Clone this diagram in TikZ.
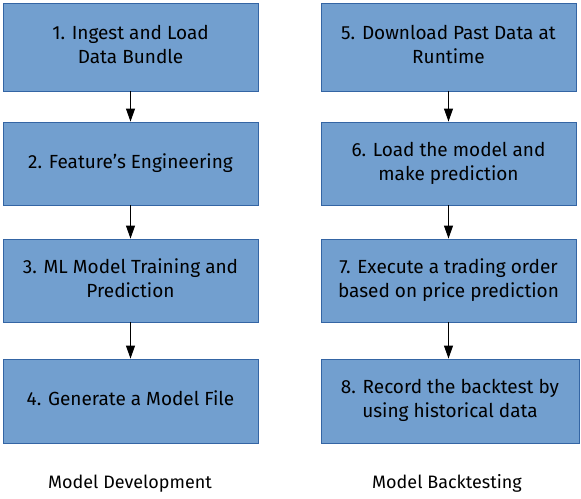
\documentclass[tikz,border=0pt]{standalone}
\usepackage{fontspec}
\setmainfont{Fira Sans}
\usetikzlibrary{arrows.meta}
\definecolor{boxfill}{HTML}{729FCF}
\definecolor{boxline}{HTML}{3465A4}
\tikzset{
  x=1pt, y=-1pt,
  stepbox/.style={draw=boxline, fill=boxfill, line width=0.9pt, rectangle,
    minimum width=255pt, align=center, inner sep=0pt,
    font=\fontsize{19}{24}\selectfont},
  flow/.style={draw=black, line width=0.9pt, -{Triangle[width=9pt,length=13pt]}},
  caption/.style={font=\fontsize{18}{24}\selectfont, inner sep=0pt, anchor=base}
}
\begin{document}
\begin{tikzpicture}
\useasboundingbox (0,0) rectangle (581,498);
\node[stepbox, minimum height=88pt] (s1) at (130.5,47) {\strut 1. Ingest and Load\\\strut Data Bundle};
\node[stepbox, minimum height=83pt] (s2) at (130.5,163.5) {\strut 2. Feature’s Engineering};
\node[stepbox, minimum height=83pt] (s3) at (130.5,280.5) {\strut 3. ML Model Training and\\\strut Prediction};
\node[stepbox, minimum height=84pt] (s4) at (130.5,401) {\strut 4. Generate a Model File};
\node[stepbox, minimum height=88pt] (s5) at (448.5,47) {\strut 5. Download Past Data at\\\strut Runtime};
\node[stepbox, minimum height=83pt] (s6) at (448.5,163.5) {\strut 6. Load the model and\\\strut make prediction};
\node[stepbox, minimum height=83pt] (s7) at (448.5,280.5) {\strut 7. Execute a trading order\\\strut based on price prediction};
\node[stepbox, minimum height=84pt, minimum width=258pt] (s8) at (450,401) {\strut 8. Record the backtest by\\\strut using historical data};
\node[caption] (c1) at (130,488.5) {Model Development};
\node[caption] (c2) at (447,488.5) {Model Backtesting};
\draw[flow] (s1) -- (s2);
\draw[flow] (s2) -- (s3);
\draw[flow] (s3) -- (s4);
\draw[flow] (s5.south) -- (s6.north);
\draw[flow] (s6.south) -- (s7.north);
\draw[flow] (s7.south) -- (s7.south |- s8.north);
\end{tikzpicture}
\end{document}
